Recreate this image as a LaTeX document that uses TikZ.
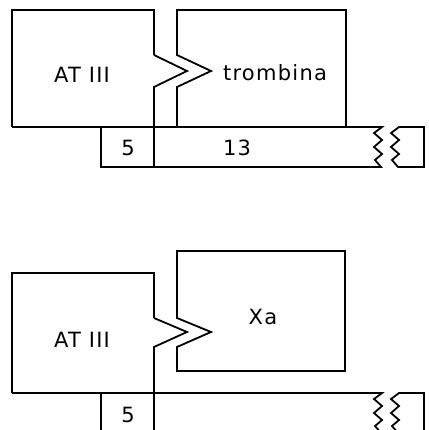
\documentclass[tikz,border=0pt]{standalone}
\usepackage{fontspec}
\setmainfont[LetterSpace=6]{DejaVu Sans}
\begin{document}
\begin{tikzpicture}[x=1pt, y=-1pt, line width=1.8pt,
    lbl/.style={font=\fontsize{21}{26}\selectfont}]
    \useasboundingbox (0,0) rectangle (428,430);
    \clip (0,0) rectangle (428,430);

    % Upper AT III
    \draw (154,55) -- (154,10) -- (12,10) -- (12,127);
    \draw (154,55) -- (187,71) -- (154,87) -- (154,167);

    % Trombina
    \draw (177,127) -- (177,87) -- (211,71) -- (177,55) -- (177,10) -- (346,10) -- (346,127);

    % Upper chain, broken at the right
    \draw (12,127) -- (382,127) -- ++(-8,6) -- ++(8,7) -- ++(-8,7) -- ++(8,7) -- ++(-7,6) -- ++(6,7)
        -- (101,167) -- (101,127);
    \draw (399,127) -- ++(-8,6) -- ++(8,7) -- ++(-8,7) -- ++(8,7) -- ++(-7,6) -- ++(6,7)
        -- (424,167) -- (424,127) -- cycle;

    \node[lbl] (atiiiA) at (82,75) {AT III};
    \node[lbl] (trombina) at (275,73) {trombina};
    \node[lbl] (cincoA) at (128,148) {5};
    \node[lbl] (trece) at (237,148) {13};

    % Lower AT III
    \draw (154,318) -- (154,273) -- (12,273) -- (12,393);
    \draw (154,318) -- (187,332) -- (154,347) -- (154,440);

    % Xa
    \draw (177,318) -- (177,251) -- (345,251) -- (345,371) -- (177,371) -- (177,347) -- (211,332) -- cycle;

    % Lower chain, runs off the bottom
    \draw (12,393) -- (382,393) -- ++(-8,6) -- ++(8,7) -- ++(-8,7) -- ++(8,7) -- ++(-7,6) -- ++(6,7)
        -- (101,433) -- (101,393);
    \draw (399,393) -- ++(-8,6) -- ++(8,7) -- ++(-8,7) -- ++(8,7) -- ++(-7,6) -- ++(6,7)
        -- (424,433) -- (424,393) -- cycle;

    \node[lbl] (atiiiB) at (82,340) {AT III};
    \node[lbl] (xa) at (263,317) {Xa};
    \node[lbl] (cincoB) at (128,415) {5};
\end{tikzpicture}
\end{document}
